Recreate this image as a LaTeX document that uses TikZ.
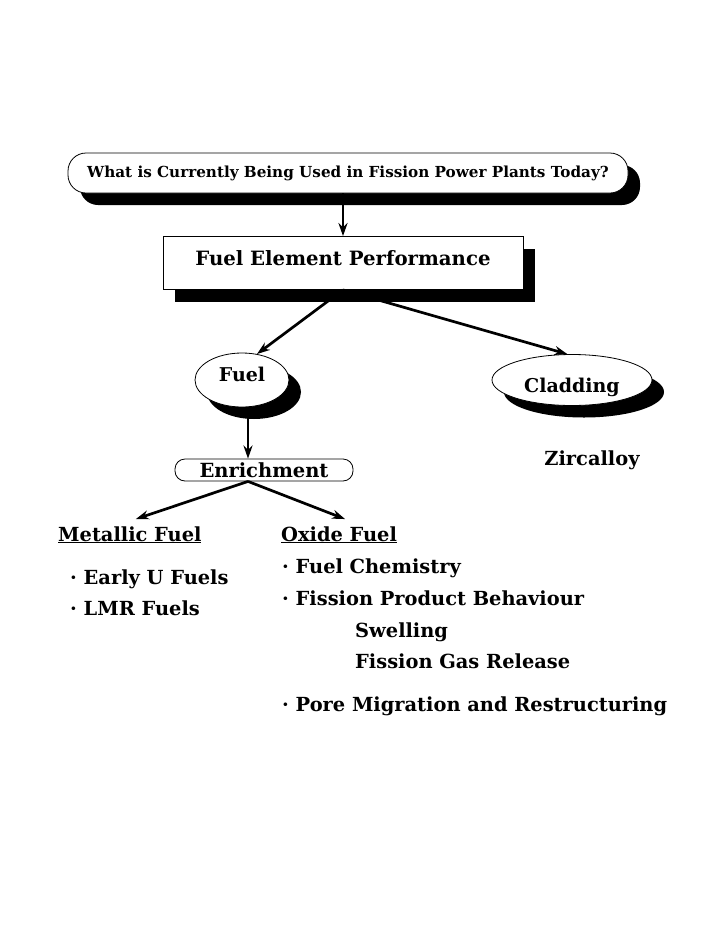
\documentclass[tikz,border=0pt]{standalone}
\usepackage{fontspec}
\setmainfont{DejaVu Serif}
\usetikzlibrary{positioning, shapes, arrows.meta, shadows}

\begin{document}
\begin{tikzpicture}[x=1pt, y=-1pt, auto,
    box/.style = {draw, rectangle, fill=white, line width=0.8pt},
    oval/.style = {draw, ellipse, fill=white, line width=0.8pt, inner sep=0pt,
                   font=\fontsize{19}{21}\selectfont\bfseries},
    shadowed/.style = {drop shadow={shadow xshift=12pt, shadow yshift=-12pt,
                       opacity=1, fill=black}},
    item/.style = {anchor=base west, inner sep=0pt,
                   font=\fontsize{19.4}{22}\selectfont\bfseries},
    arrow/.style = {line width=2.7pt, -{Stealth[length=13pt, width=9pt]}}]

    \useasboundingbox (0,0) rectangle (720,932);

    % Boxes
    \node [box, shadowed, rounded corners=18pt, minimum width=560pt, minimum height=40pt,
           font=\fontsize{15.2}{17}\selectfont\bfseries] (question) at (348,173)
           {What is Currently Being Used in Fission Power Plants Today?};
    \node [box, shadowed, minimum width=360pt, minimum height=53pt,
           text height=14pt, text depth=9pt,
           font=\fontsize{19.7}{22}\selectfont\bfseries] (fep) at (343,263)
           {Fuel Element Performance};
    \node [oval, shadowed, minimum width=94pt, minimum height=54pt,
           text height=14pt, text depth=11pt] (fuel) at (242,380) {Fuel};
    \node [oval, shadowed, minimum width=160pt, minimum height=51pt,
           text height=25pt, text depth=0pt] (clad) at (572,380) {Cladding};
    \node [box, rounded corners=10pt, minimum width=178pt, minimum height=22pt, inner sep=0pt,
           font=\fontsize{19.5}{21}\selectfont\bfseries] (enrich) at (264,470) {Enrichment};
    \node [font=\fontsize{19.4}{21}\selectfont\bfseries] (zirc) at (592,460) {Zircalloy};

    % Fuel lists
    \node [item] (metal) at (58,541) {\underline{Metallic Fuel}};
    \node [item] (early) at (70,584) {\textperiodcentered\ Early U Fuels};
    \node [item] (lmr) at (70,615) {\textperiodcentered\ LMR Fuels};
    \node [item] (oxide) at (281,541) {\underline{Oxide Fuel}};
    \node [item] (chem) at (282,573) {\textperiodcentered\ Fuel Chemistry};
    \node [item] (fpb) at (282,605) {\textperiodcentered\ Fission Product Behaviour};
    \node [item] (swell) at (355,637) {Swelling};
    \node [item] (fgr) at (355,668) {Fission Gas Release};
    \node [item] (pore) at (282,711) {\textperiodcentered\ Pore Migration and Restructuring};

    % Arrows
    \draw [arrow] (fep.north |- question.south) -- (fep.north);
    \draw [arrow] (fep.south) -- (fuel.60);
    \draw [arrow] (fep.south) -- (clad.100);
    \draw [arrow] ([xshift=6pt]fuel.south) -- ([xshift=-16pt]enrich.north);
    \draw [arrow] ([xshift=-16pt]enrich.south) -- ([xshift=6pt,yshift=7pt]metal.north);
    \draw [arrow] ([xshift=-16pt]enrich.south) -- ([xshift=6pt,yshift=7pt]oxide.north);
\end{tikzpicture}
\end{document}
